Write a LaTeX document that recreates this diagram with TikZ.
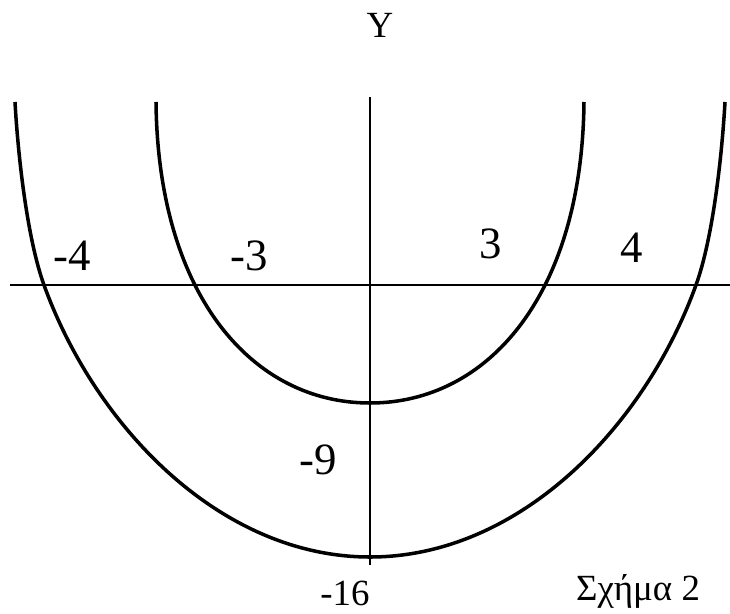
\documentclass[tikz,border=0pt]{standalone}
\usepackage{fontspec}
\setmainfont{Liberation Serif}
\usepackage{tikz}
\usetikzlibrary{positioning}

\begin{document}
\begin{tikzpicture}[
    x=0.02cm, y=0.02cm,
    axis/.style={line width=1pt},
    curve/.style={line width=2pt},
    lbl/.style={font=\fontsize{25.5}{30}\selectfont, inner sep=0pt},
    small/.style={font=\fontsize{21}{25}\selectfont, inner sep=0pt}
]
    \useasboundingbox (-370,-328) rectangle (360,285);
    % axes
    \coordinate (xl) at (-360,0);
    \coordinate (xr) at (360,0);
    \coordinate (yt) at (0,188);
    \coordinate (yb) at (0,-280);
    \draw[axis] (xl) -- (xr);
    \draw[axis] (yt) -- (yb);
    % y = x^2 - 16
    \draw[curve] (-355,183) .. controls (-352,130) and (-343,47) .. (-326,0)
        .. controls (-275,-141) and (-150,-272) .. (0,-272)
        .. controls (150,-272) and (275,-141) .. (326,0)
        .. controls (343,47) and (352,130) .. (355,183);
    % y = x^2 - 9
    \draw[curve] (-214,183) .. controls (-212,-10) and (-118,-118) .. (0,-118)
        .. controls (118,-118) and (212,-10) .. (214,183);
    % labels
    \node[small] (ylab) at (10,260) {Y};
    \node[lbl] (xm4) at (-298,29) {-4};
    \node[lbl] (xm3) at (-121,29) {-3};
    \node[lbl] (xp3) at (121,41) {3};
    \node[lbl] (xp4) at (262,37) {4};
    \node[lbl] (ym9) at (-52,-175) {-9};
    \node[small] (ym16) at (-25,-308) {-16};
    \node[small] (cap) at (268,-306) {Σχήμα 2};
\end{tikzpicture}
\end{document}
